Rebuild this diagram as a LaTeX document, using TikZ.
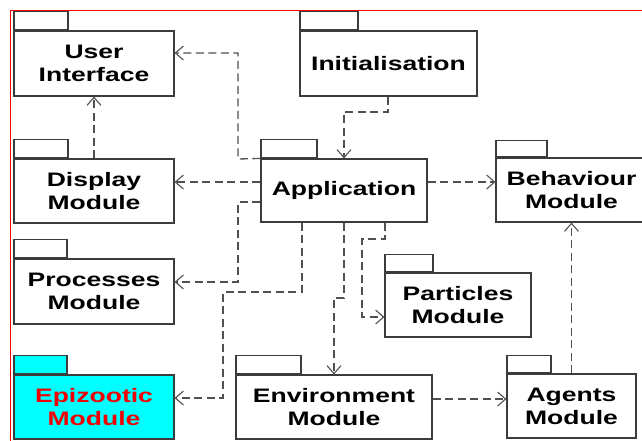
\documentclass[tikz,border=0pt]{standalone}
\usepackage{fontspec}
\setmainfont{Liberation Sans}[FakeStretch=1.36]
\usetikzlibrary{arrows.meta}
\definecolor{boxline}{HTML}{3C3C3C}
\definecolor{depline}{HTML}{505050}
\definecolor{epifill}{HTML}{00FFFF}
\definecolor{epitext}{HTML}{F00000}
\tikzset{
  pkgbody/.style={draw=boxline, line width=1.1pt, fill=white, inner sep=0pt,
    align=center, font=\fontsize{19.5}{23}\selectfont\bfseries},
  pkgtab/.style={draw=boxline, line width=1.1pt, fill=white, inner sep=0pt,
    minimum height=18pt, anchor=south west},
  epi/.style={fill=epifill, text=epitext},
  dep/.style={draw=depline, line width=1.3pt, dash pattern=on 8pt off 4.5pt,
    -{Straight Barb[length=8pt,width=14pt,line width=1.1pt]}},
}
\begin{document}
\begin{tikzpicture}[x=1pt,y=-1pt]
\clip (0,0) rectangle (642,441);
\fill[white] (0,0) rectangle (642,441);
\draw[red, line width=1pt] (10.5,460) -- (10.5,10.5) -- (660,10.5);

% package bodies
\node[pkgbody, minimum width=160pt, minimum height=65pt] (UI) at (94,63.5) {User\\Interface};
\node[pkgbody, minimum width=177pt, minimum height=65pt] (Init) at (388.5,63.5) {Initialisation};
\node[pkgbody, minimum width=160pt, minimum height=64pt] (Disp) at (94,191) {Display\\Module};
\node[pkgbody, minimum width=166pt, minimum height=63pt] (App) at (344,190.5) {Application};
\node[pkgbody, minimum width=151pt, minimum height=64pt] (Beh) at (571.5,190) {Behaviour\\Module};
\node[pkgbody, minimum width=160pt, minimum height=65pt] (Proc) at (94,291.5) {Processes\\Module};
\node[pkgbody, minimum width=146pt, minimum height=64pt] (Part) at (458,305) {Particles\\Module};
\node[pkgbody, epi, minimum width=160pt, minimum height=64pt] (Epi) at (94,407) {Epizootic\\Module};
\node[pkgbody, minimum width=196pt, minimum height=64pt] (Env) at (334,407) {Environment\\Module};
\node[pkgbody, minimum width=129pt, minimum height=64pt] (Agt) at (571.5,406) {Agents\\Module};

% package tabs
\node[pkgtab, minimum width=54pt] (UItab) at (UI.north west) {};
\node[pkgtab, minimum width=58pt] (Inittab) at (Init.north west) {};
\node[pkgtab, minimum width=54pt] (Disptab) at (Disp.north west) {};
\node[pkgtab, minimum width=56pt] (Apptab) at (App.north west) {};
\node[pkgtab, minimum width=51pt, minimum height=16pt] (Behtab) at (Beh.north west) {};
\node[pkgtab, minimum width=53pt] (Proctab) at (Proc.north west) {};
\node[pkgtab, minimum width=48pt, minimum height=17pt] (Parttab) at (Part.north west) {};
\node[pkgtab, epi, minimum width=53pt] (Epitab) at (Epi.north west) {};
\node[pkgtab, minimum width=65pt] (Envtab) at (Env.north west) {};
\node[pkgtab, minimum width=44pt, minimum height=17pt] (Agttab) at (Agt.north west) {};

% dependencies
\draw[dep] (App.north west) -- (238,159) -- (238,53) -- (UI.east |- 0,53);
\draw[dep] (Disp.north) -- (UI.south);
\draw[dep] (App.west |- 0,182) -- (Disp.east |- 0,182);
\draw[dep] (App.west |- 0,202) -- (238,202) -- (238,282) -- (Proc.east |- 0,282);
\draw[dep] (App.south -| 302,0) -- (302,292) -- (223,292) -- (223,398) -- (Epi.east |- 0,398);
\draw[dep] (App.south) -- (344,298) -- (334,298) -- (Env.north);
\draw[dep] (App.south -| 385,0) -- (385,239) -- (362,239) -- (362,317) -- (Part.west |- 0,317);
\draw[dep] (Init.south -| 388,0) -- (388,112) -- (344,112) -- (App.north);
\draw[dep] (App.east |- 0,182) -- (Beh.west |- 0,182);
\draw[dep] (Env.east |- 0,399) -- (Agt.west |- 0,399);
\draw[dep] (Agt.north) -- (Beh.south);
\end{tikzpicture}
\end{document}
